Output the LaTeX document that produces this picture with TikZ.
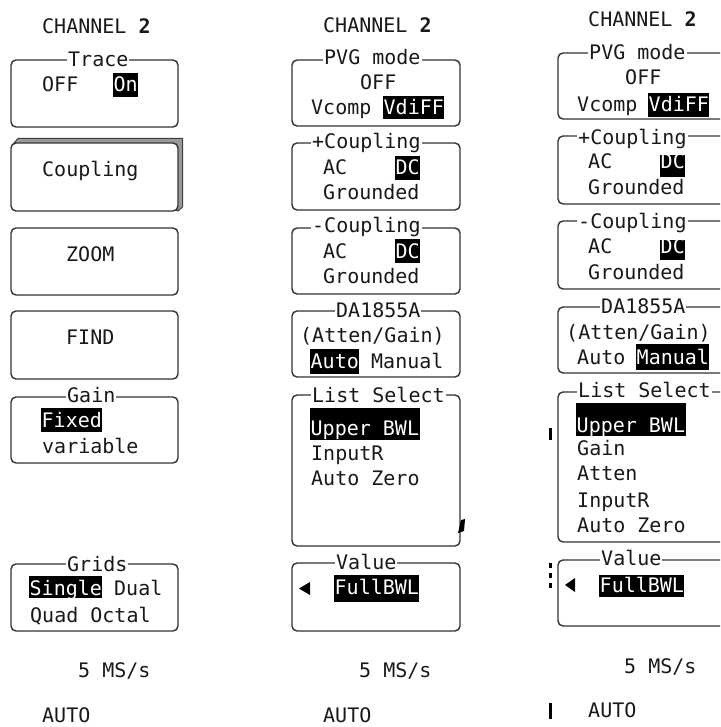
\documentclass[tikz,border=0pt]{standalone}
\usepackage{fontspec}
\setmainfont{DejaVu Sans Mono}
\begin{document}
\begin{tikzpicture}[x=1pt,y=-1pt,
  every node/.style={font=\fontsize{20}{24}\selectfont, inner sep=0pt, anchor=base west, text=black!90},
  panel/.style={draw=black!80, line width=1.4pt, rounded corners=5pt, fill=white},
  ttl/.style={fill=white, inner xsep=1pt, inner ysep=2pt},
  hl/.style={fill=black, text=white, inner xsep=0.5pt, inner ysep=0pt, text height=19pt, text depth=5pt},
  blk/.style={fill=black}
]
\useasboundingbox (0,0) rectangle (720,727);
\clip (0,0) rectangle (720,727);

% ---------- column 1 ----------
\draw[panel] (11,60) rectangle (178,127);
\filldraw[fill=black!40, draw=black!75, line width=1pt] (14,143) -- (18,138.5) -- (182.5,138.5) -- (182.5,207) -- (178,211) -- cycle;
\draw[panel] (11,143) rectangle (178,211);
\draw[panel] (11,228) rectangle (178,295);
\draw[panel] (11,311) rectangle (178,379);
\draw[panel] (11,397) rectangle (178,463);
\draw[panel] (11,564) rectangle (178,631);

\node (c1ch) at (42,34) {CHANNEL {\bfseries 2}};
\node[ttl] (c1t1) at (67,67) {Trace};
\node (c1off) at (42,92) {OFF};
\node[hl] (c1on) at (113,92) {On};
\node (c1cp) at (42,177) {Coupling};
\node (c1zm) at (66,261) {ZOOM};
\node (c1fd) at (66,344) {FIND};
\node[ttl] (c1t2) at (66,402) {Gain};
\node[hl] (c1fx) at (41,427) {Fixed};
\node (c1vr) at (42,453) {variable};
\node[ttl] (c1t3) at (66,571) {Grids};
\node[hl, text depth=3pt] (c1sg) at (29,595) {Single};
\node (c1du) at (114,595) {Dual};
\node (c1qo) at (30,622) {Quad Octal};
\node (c1ms) at (78,677) {5 MS/s};
\node (c1au) at (42,722) {AUTO};

% ---------- column 2 ----------
\draw[panel] (292,60) rectangle (460,126);
\draw[panel] (292,143) rectangle (460,210);
\draw[panel] (292,228) rectangle (460,294);
\draw[panel] (292,311) rectangle (460,377);
\draw[panel] (292,395) rectangle (460,546);
\draw[panel] (292,563) rectangle (460,631);

\node (c2ch) at (323,33) {CHANNEL {\bfseries 2}};
\node[ttl] (c2t1) at (323,65) {PVG mode};
\node (c2off) at (360,90) {OFF};
\node (c2vc) at (311,115) {Vcomp};
\node[hl, text depth=4pt] (c2vd) at (383,115) {VdiFF};
\node[ttl] (c2t2) at (311,149) {+Coupling};
\node (c2ac1) at (323,175) {AC};
\node[hl] (c2dc1) at (395,175) {DC};
\node (c2gr1) at (323,200) {Grounded};
\node[ttl] (c2t3) at (311,233) {-Coupling};
\node (c2ac2) at (323,258) {AC};
\node[hl] (c2dc2) at (395,258) {DC};
\node (c2gr2) at (323,283) {Grounded};
\node[ttl] (c2t4) at (335,317) {DA1855A};
\node (c2ag) at (300,342) {(Atten/Gain)};
\node[hl, text depth=6pt] (c2au) at (310,368) {Auto};
\node (c2mn) at (371,368) {Manual};
\node[ttl] (c2t5) at (311,402) {List Select};
\node[hl, text height=27pt] (c2ub) at (310,435) {Upper BWL};
\node (c2ir) at (311,460) {InputR};
\node (c2az) at (311,485) {Auto Zero};
\fill[blk] (461,520) -- (465,519) -- (464,531) -- (458,533) -- cycle;
\node[ttl] (c2t6) at (335,569) {Value};
\fill[blk] (299,588.5) -- (310,582) -- (310,595) -- cycle;
\node[hl, text depth=8pt] (c2fb) at (334,594) {FullBWL};
\node (c2ms) at (359,677) {5 MS/s};
\node (c2au2) at (323,722) {AUTO};

% ---------- column 3 ----------
\draw[panel] (558,53) rectangle (740,119);
\draw[panel] (558,136) rectangle (740,204);
\draw[panel] (558,221) rectangle (740,289);
\draw[panel] (558,307) rectangle (740,373);
\draw[panel] (558,392) rectangle (740,542);
\draw[panel] (558,560) rectangle (740,626);

\node (c3ch) at (588,27) {CHANNEL {\bfseries 2}};
\node[ttl] (c3t1) at (588,60) {PVG mode};
\node (c3off) at (625,85) {OFF};
\node (c3vc) at (577,112) {Vcomp};
\node[hl] (c3vd) at (648,112) {VdiFF};
\node[ttl] (c3t2) at (577,145) {+Coupling};
\node (c3ac1) at (588,169) {AC};
\node[hl, text height=14pt, text depth=8pt] (c3dc1) at (660,169) {DC};
\node (c3gr1) at (588,195) {Grounded};
\node[ttl] (c3t3) at (577,228) {-Coupling};
\node (c3ac2) at (588,253) {AC};
\node[hl, text height=13pt, text depth=7pt] (c3dc2) at (660,253) {DC};
\node (c3gr2) at (588,279) {Grounded};
\node[ttl] (c3t4) at (600,313) {DA1855A};
\node (c3ag) at (566,339) {(Atten/Gain)};
\node (c3au) at (577,364) {Auto};
\node[hl, text height=20pt, text depth=6pt] (c3mn) at (636,364) {Manual};
\node[ttl] (c3t5) at (577,397) {List Select};
\node[hl, text height=29pt, text depth=4pt] (c3ub) at (576,432) {Upper BWL};
\node (c3gn) at (577,455) {Gain};
\node (c3at) at (577,480) {Atten};
\node (c3ir) at (577,507) {InputR};
\node (c3az) at (577,532) {Auto Zero};
\node[ttl] (c3t6) at (600,565) {Value};
\fill[blk] (565,585) -- (575,578) -- (575,592) -- cycle;
\node[hl, text height=17pt] (c3fb) at (599,592) {FullBWL};
\node (c3ms) at (624,673) {5 MS/s};
\node (c3au2) at (588,717) {AUTO};

% small side ticks
\fill[blk] (549,428) rectangle (551.5,440);
\fill[blk] (549,563) rectangle (551.5,568);
\fill[blk] (549,573) rectangle (551.5,578);
\fill[blk] (549,583) rectangle (551.5,588);
\fill[blk] (549,703) rectangle (551.5,719);
\end{tikzpicture}
\end{document}
